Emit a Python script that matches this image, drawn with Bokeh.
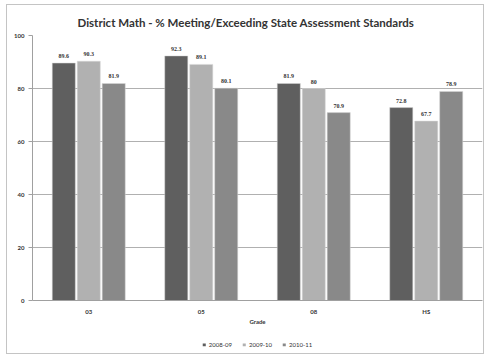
from bokeh.plotting import figure
from bokeh.layouts import column
from bokeh.models import ColumnDataSource, FactorRange, Legend, LegendItem, LabelSet
from bokeh.transform import dodge
from bokeh.embed import file_html
from bokeh.resources import INLINE

grades = ["03", "05", "08", "HS"]
years = ["2008-09", "2009-10", "2010-11"]
v0809 = [89.6, 92.3, 81.9, 72.8]
v0910 = [90.3, 89.1, 80, 67.7]
v1011 = [81.9, 80.1, 70.9, 78.9]
colors = ["#5f5f5f", "#b1b1b1", "#898989"]

src = ColumnDataSource(dict(
    g=grades, a=v0809, b=v0910, c=v1011,
    la=[str(v) for v in v0809], lb=[str(v) for v in v0910], lc=[str(v) for v in v1011],
))

chart = figure(x_range=FactorRange(*grades), y_range=(0, 100), width=476, height=330,
               output_backend="svg", toolbar_location=None,
               min_border_left=25, min_border_right=1, min_border_top=30, min_border_bottom=35,
               title="District Math - % Meeting/Exceeding State Assessment Standards")
chart.background_fill_color = "white"
chart.border_fill_color = "white"
chart.outline_line_color = None

chart.title.align = "left"
chart.title.text_font = "Lato"
chart.title.text_font_size = "11.5px"
chart.title.text_font_style = "bold"
chart.title.text_color = "#333333"
chart.title.standoff = 13
chart.title.offset = 45

offs = [-0.222, 0.0, 0.222]
cols = ["a", "b", "c"]
labs = ["la", "lb", "lc"]
for off, col, lab, color in zip(offs, cols, labs, colors):
    chart.vbar(x=dodge("g", off, range=chart.x_range), top=col, width=0.205, source=src,
               fill_color=color, line_color="#d8d8d8", line_width=0.5)
    chart.add_layout(LabelSet(x=dodge("g", off, range=chart.x_range), y=col, text=lab, source=src,
                              text_font="Lato", text_font_size="6px", text_font_style="bold",
                              text_color="#333333", text_align="center", y_offset=5,
                              text_baseline="bottom"))

chart.yaxis.ticker = [0, 20, 40, 60, 80, 100]
chart.yaxis.major_label_text_font = "Lato"
chart.yaxis.major_label_text_font_size = "6px"
chart.yaxis.major_label_text_font_style = "bold"
chart.yaxis.major_label_text_color = "#333333"
chart.yaxis.axis_line_color = "#a0a0a0"
chart.yaxis.major_tick_line_color = "#a0a0a0"
chart.yaxis.major_tick_out = 4
chart.yaxis.major_tick_in = 0
chart.yaxis.minor_tick_line_color = None
chart.yaxis.major_label_standoff = 4

chart.xaxis.axis_line_color = "#a0a0a0"
chart.xaxis.major_tick_line_color = None
chart.xaxis.major_label_text_font = "Lato"
chart.xaxis.major_label_text_font_size = "6px"
chart.xaxis.major_label_text_font_style = "bold"
chart.xaxis.major_label_text_color = "#333333"
chart.xaxis.major_label_standoff = 1
chart.xaxis.axis_label = "Grade"
chart.xaxis.axis_label_text_font = "Lato"
chart.xaxis.axis_label_text_font_size = "6px"
chart.xaxis.axis_label_text_font_style = "bold"
chart.xaxis.axis_label_text_color = "#333333"
chart.xaxis.axis_label_standoff = 0

chart.xgrid.grid_line_color = None
chart.ygrid.grid_line_color = "#b0b0b0"
chart.ygrid.grid_line_width = 1

# legend strip (zero-size proxy bars carry the legend swatches)
leg = figure(width=476, height=18, output_backend="svg", toolbar_location=None,
             min_border=0, x_range=FactorRange(*years), y_range=(0, 1))
leg.axis.visible = False
leg.grid.visible = False
leg.outline_line_color = None
leg.background_fill_color = "white"
leg.border_fill_color = "white"
lrs = []
for y, c in zip(years, colors):
    proxy = ColumnDataSource(dict(x=[y], top=[0]))
    lrs.append(leg.vbar(x="x", top="top", width=0, source=proxy,
                        fill_color=c, line_color=None))
legend = Legend(items=[LegendItem(label=y, renderers=[r]) for y, r in zip(years, lrs)],
                orientation="horizontal", location="center",
                label_text_font="Lato", label_text_font_size="6px",
                label_text_color="#333333", glyph_width=4, glyph_height=4,
                label_height=6, label_standoff=3, spacing=10, padding=0, margin=0,
                background_fill_alpha=0, border_line_color=None)
leg.add_layout(legend)

p = column(chart, leg, spacing=0, margin=(4, 0, 0, 6),
           styles={"border": "1px solid #c4c4c4"})
open("out.html", "w").write(file_html(p, INLINE))
